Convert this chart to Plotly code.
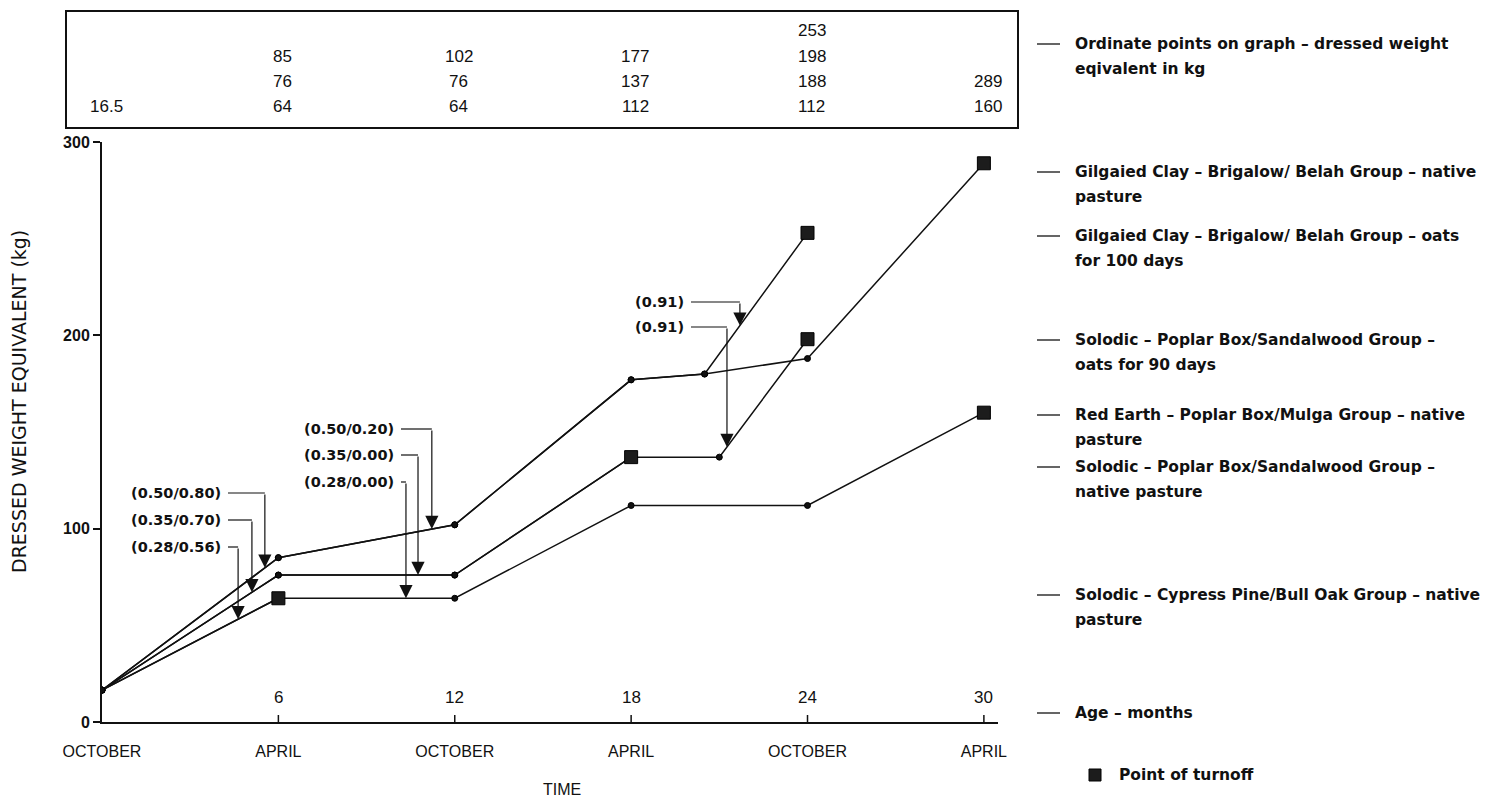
import numpy as np
import plotly.graph_objects as go

# ---------------- data ----------------
tick_ages = [0, 6, 12, 18, 24, 30]
month_labels = ["OCTOBER", "APRIL", "OCTOBER", "APRIL", "OCTOBER", "APRIL"]
age_label_ages = [6, 12, 18, 24, 30]

series_names = [
    "Gilgaied Clay – Brigalow/ Belah Group – native pasture",
    "Gilgaied Clay – Brigalow/ Belah Group – oats for 100 days",
    "Solodic – Poplar Box/Sandalwood Group – oats for 90 days",
    "Red Earth – Poplar Box/Mulga Group – native pasture",
    "Solodic – Poplar Box/Sandalwood Group – native pasture",
    "Solodic – Cypress Pine/Bull Oak Group – native pasture",
]
gc_native_age = [0, 6, 12, 18, 20.5, 24, 30]
gc_native_wt = [16.5, 85, 102, 177, 180, 188, 289]
gc_oats_age = [0, 6, 12, 18, 20.5, 24]
gc_oats_wt = [16.5, 85, 102, 177, 180, 253]
sol_pb_oats_age = [0, 6, 12, 18, 21, 24]
sol_pb_oats_wt = [16.5, 76, 76, 137, 137, 198]
red_earth_age = [0, 6, 12, 18, 24, 30]
red_earth_wt = [16.5, 64, 64, 112, 112, 160]
sol_pb_native_age = [0, 6, 12, 18]
sol_pb_native_wt = [16.5, 76, 76, 137]
sol_cp_native_age = [0, 6]
sol_cp_native_wt = [16.5, 64]

series_ages = [gc_native_age, gc_oats_age, sol_pb_oats_age, red_earth_age, sol_pb_native_age, sol_cp_native_age]
series_wts = [gc_native_wt, gc_oats_wt, sol_pb_oats_wt, red_earth_wt, sol_pb_native_wt, sol_cp_native_wt]

# ordinate table (top to bottom in each age column)
table_ages = [0, 6, 12, 18, 24, 30]
table_col_0 = ["16.5"]
table_col_6 = ["85", "76", "64"]
table_col_12 = ["102", "76", "64"]
table_col_18 = ["177", "137", "112"]
table_col_24 = ["253", "198", "188", "112"]
table_col_30 = ["289", "160"]
table_cols = [table_col_0, table_col_6, table_col_12, table_col_18, table_col_24, table_col_30]

# stocking-rate arrows
arrow_texts = ["(0.50/0.80)", "(0.35/0.70)", "(0.28/0.56)",
               "(0.50/0.20)", "(0.35/0.00)", "(0.28/0.00)",
               "(0.91)", "(0.91)"]
arrow_target_age = [5.54, 5.10, 4.63, 11.22, 10.75, 10.34, 21.7, 21.26]
arrow_series = [0, 2, 3, 0, 2, 3, 1, 2]

legend_lines = [
    ["Ordinate points on graph – dressed weight", "eqivalent in kg"],
    ["Gilgaied Clay – Brigalow/ Belah Group – native", "pasture"],
    ["Gilgaied Clay – Brigalow/ Belah Group – oats", "for 100 days"],
    ["Solodic – Poplar Box/Sandalwood Group –", "oats for 90 days"],
    ["Red Earth – Poplar Box/Mulga Group – native", "pasture"],
    ["Solodic – Poplar Box/Sandalwood Group –", "native pasture"],
    ["Solodic – Cypress Pine/Bull Oak Group – native", "pasture"],
    ["Age – months"],
]

# ---------------- layout geometry ----------------
W, H = 1501, 798
PX_L, PX_R, PX_T, PX_B = 102, 998, 142, 722
X_MAX = 30.48
Y_MAX = 300


def pxx(px):
    return (px - PX_L) / (PX_R - PX_L)


def pxy(py):
    return (PX_B - py) / (PX_B - PX_T)


def px_to_month(px):
    return (px - PX_L) / (PX_R - PX_L) * X_MAX


def py_to_wt(py):
    return (PX_B - py) / (PX_B - PX_T) * Y_MAX


arrow_label_start_px = [228, 228, 228, 401, 401, 401, 691, 691]
arrow_label_py = [493, 520, 547, 429, 455, 482, 302, 327]
legend_py = [44, 172, 236, 340, 415, 467, 595, 713]
table_row_py = [30, 56, 81, 106]

SANS = "Liberation Sans, Arial, sans-serif"
DEJ = "DejaVu Sans, sans-serif"
INK = "#111111"
SQ = "#1c1c1c"

fig = go.Figure()

plot_order = [3, 2, 0, 1, 5, 4]
for i in plot_order:
    a, w = series_ages[i], series_wts[i]
    n = len(a)
    symbols = ["circle"] * (n - 1) + ["square"]
    sizes = [6] * (n - 1) + [13]
    colors = [INK] * (n - 1) + [SQ]
    fig.add_trace(go.Scatter(
        x=a, y=w, mode="lines+markers", name=series_names[i],
        line=dict(color=INK, width=1.5),
        marker=dict(symbol=symbols, size=sizes, color=colors, opacity=1,
                    line=dict(color="#000000", width=1)),
        showlegend=False, hoverinfo="x+y+name",
    ))

annotations = []
shapes = []

# arrows
for k, txt in enumerate(arrow_texts):
    s = arrow_series[k]
    tx = arrow_target_age[k]
    ty = float(np.interp(tx, series_ages[s], series_wts[s]))
    ly = py_to_wt(arrow_label_py[k])
    lx = px_to_month(arrow_label_start_px[k])
    annotations.append(dict(x=lx, y=ly, xref="x", yref="y", text=txt, showarrow=False,
                            xanchor="right", yanchor="middle", xshift=-5,
                            font=dict(family=DEJ, size=14.5, color=INK, weight="bold")))
    shapes.append(dict(type="line", xref="x", yref="y", x0=lx, x1=tx, y0=ly, y1=ly,
                       line=dict(color=INK, width=1.2)))
    annotations.append(dict(x=tx, y=ty, xref="x", yref="y", ax=tx, ay=ly, axref="x", ayref="y",
                            text="", showarrow=True, arrowhead=2, arrowsize=2.2,
                            arrowwidth=1.2, arrowcolor=INK, standoff=0))

# age numbers above x axis
for a in age_label_ages:
    annotations.append(dict(x=a, y=0, xref="x", yref="y", text=str(a), showarrow=False,
                            yshift=25, font=dict(family=SANS, size=17, color=INK)))
    shapes.append(dict(type="line", xref="x", yref="y", x0=a, x1=a, ysizemode="pixel",
                       yanchor=0, y0=-9, y1=7, line=dict(color=INK, width=1.5)))

# ordinate table
for a, col in zip(table_ages, table_cols):
    rows = table_row_py[len(table_row_py) - len(col):]
    for txt, py in zip(col, rows):
        annotations.append(dict(x=a, y=pxy(py), xref="x", yref="paper", text=txt,
                                showarrow=False, xshift=4, yanchor="middle",
                                font=dict(family=SANS, size=17, color=INK)))
shapes.append(dict(type="rect", xref="paper", yref="paper", x0=pxx(66), x1=pxx(1018),
                   y0=pxy(128), y1=pxy(11), line=dict(color=INK, width=2)))

# right-side key
for lines, py in zip(legend_lines, legend_py):
    shapes.append(dict(type="line", xref="paper", yref="paper", x0=pxx(1037), x1=pxx(1060),
                       y0=pxy(py), y1=pxy(py), line=dict(color=INK, width=1.3)))
    for j, ln in enumerate(lines):
        annotations.append(dict(x=pxx(1073), y=pxy(py + 25 * j), xref="paper", yref="paper",
                                text=ln, showarrow=False, xanchor="left", yanchor="middle",
                                font=dict(family=DEJ, size=15.5, color=INK, weight="bold")))
shapes.append(dict(type="rect", xref="paper", yref="paper", x0=pxx(1089), x1=pxx(1101),
                   y0=pxy(781), y1=pxy(769), fillcolor=SQ, line=dict(color="#000000", width=1)))
annotations.append(dict(x=pxx(1117), y=pxy(775), xref="paper", yref="paper", text="Point of turnoff",
                        showarrow=False, xanchor="left", yanchor="middle",
                        font=dict(family=DEJ, size=15.5, color=INK, weight="bold")))

# axis titles
annotations.append(dict(x=pxx(562), y=pxy(789), xref="paper", yref="paper", text="TIME",
                        showarrow=False, yanchor="middle",
                        font=dict(family=SANS, size=16, color=INK)))
annotations.append(dict(x=pxx(19), y=pxy(402), xref="paper", yref="paper",
                        text="DRESSED WEIGHT EQUIVALENT (kg)", textangle=-90,
                        xanchor="center", yanchor="middle",
                        showarrow=False, font=dict(family=DEJ, size=19, color=INK)))

fig.update_layout(
    width=W, height=H,
    margin=dict(l=PX_L, r=W - PX_R, t=PX_T, b=H - PX_B, pad=0),
    paper_bgcolor="white", plot_bgcolor="white",
    annotations=annotations, shapes=shapes,
    xaxis=dict(range=[0, X_MAX], tickvals=tick_ages, ticktext=month_labels,
               showgrid=False, zeroline=False, showline=True, linecolor=INK, linewidth=2,
               ticks="", ticklabelstandoff=14,
               tickfont=dict(family=SANS, size=16, color=INK), fixedrange=True),
    yaxis=dict(range=[0, Y_MAX], tickvals=[0, 100, 200, 300],
               showgrid=False, zeroline=False, showline=True, linecolor=INK, linewidth=2,
               ticks="outside", ticklen=7, tickwidth=1.5, tickcolor=INK,
               tickfont=dict(family=SANS, size=16, color=INK, weight="bold"), fixedrange=True),
    showlegend=False,
)

fig.write_html("out.html", config={"displayModeBar": False},
               post_script="document.body.style.margin='0';document.body.style.overflow='hidden';")
